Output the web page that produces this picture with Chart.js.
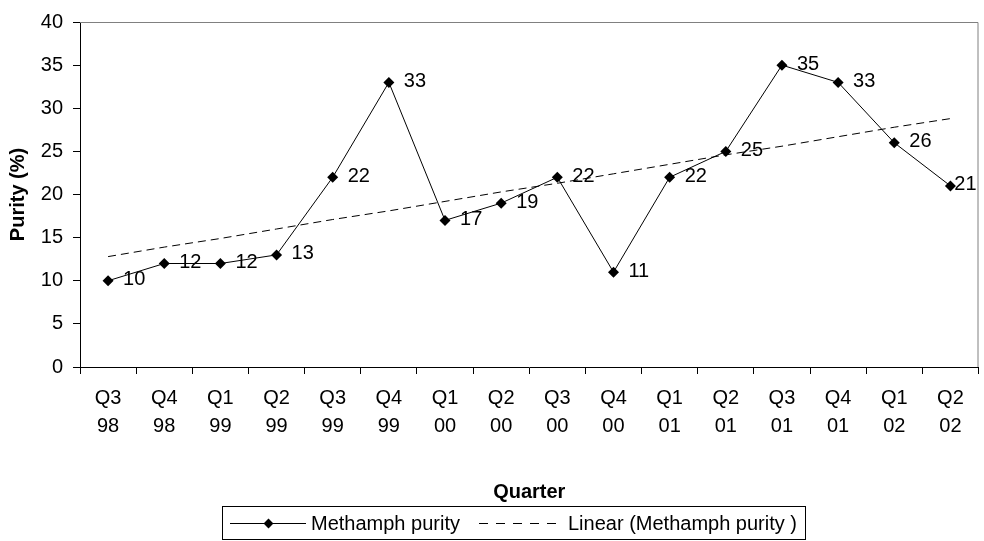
<!DOCTYPE html>
<html>
<head>
<meta charset="utf-8">
<script src="https://cdn.jsdelivr.net/npm/chart.js@4.4.1/dist/chart.umd.min.js"></script>
<style>
  body { margin: 0; background: #fff; font-family: Arial, "Liberation Sans", sans-serif; }
  #wrap { position: relative; width: 984px; height: 541px; }
  #legend {
    position: absolute; left: 222px; top: 506px; width: 584px; height: 34px;
    border: 1px solid #000; box-sizing: border-box; font-size: 20px; color: #000;
  }
  #legend .item { position: absolute; top: 0; height: 32px; line-height: 32px; white-space: nowrap; }
  #legend .solid { position: absolute; top: 16px; height: 1px; background: #000; }
  #legend .dash { position: absolute; top: 16px; height: 1px;
    background: repeating-linear-gradient(90deg, #000 0 9px, transparent 9px 17px); }
  #legend .dia { position: absolute; top: 13px; width: 7px; height: 7px; background: #000; transform: rotate(45deg); }
</style>
</head>
<body>
<div id="wrap">
  <canvas id="purityChart" width="984" height="541"></canvas>
  <div id="legend">
    <div class="solid" style="left:7px; width:76px;"></div>
    <div class="dia" style="left:42px;"></div>
    <div class="item" style="left:88px;">Methamph purity</div>
    <div class="dash" style="left:256px; width:80px;"></div>
    <div class="item" style="left:345px;">Linear (Methamph purity )</div>
  </div>
</div>
<script>
const quarters = [['Q3','98'],['Q4','98'],['Q1','99'],['Q2','99'],['Q3','99'],['Q4','99'],['Q1','00'],['Q2','00'],
                  ['Q3','00'],['Q4','00'],['Q1','01'],['Q2','01'],['Q3','01'],['Q4','01'],['Q1','02'],['Q2','02']];
const purity = [10, 12, 12, 13, 22, 33, 17, 19, 22, 11, 22, 25, 35, 33, 26, 21];
// trend line
const linearTrend = [12.8, 13.9, 14.9, 16.0, 17.1, 18.1, 19.2, 20.3, 21.3, 22.4, 23.5, 24.6, 25.6, 26.7, 27.8, 28.8];
const yTicks = [0, 5, 10, 15, 20, 25, 30, 35, 40];

const FONT = 'Arial, "Liberation Sans", sans-serif';

// value labels next to the points
const pointLabels = {
    id: 'pointLabels',
    afterDatasetsDraw(chart) {
        const ctx = chart.ctx;
        const meta = chart.getDatasetMeta(0);
        ctx.save();
        ctx.font = '20px ' + FONT;
        ctx.fillStyle = '#000';
        ctx.textAlign = 'left';
        ctx.textBaseline = 'middle';
        meta.data.forEach((pt, i) => {
            const txt = String(purity[i]);
            const w = ctx.measureText(txt).width;
            let x = pt.x + 15;
            if (x + w > chart.chartArea.right - 2) x = chart.chartArea.right - 2 - w;
            ctx.fillText(txt, x, pt.y - 1);
        });
        ctx.restore();
    }
};

// grey top and right frame
const frame = {
    id: 'frame',
    beforeDatasetsDraw(chart) {
        const { ctx, chartArea: a } = chart;
        ctx.save();
        ctx.strokeStyle = '#808080';
        ctx.lineWidth = 1;
        ctx.beginPath();
        ctx.moveTo(a.left, a.top + 0.5);
        ctx.lineTo(a.right - 0.5, a.top + 0.5);
        ctx.lineTo(a.right - 0.5, a.bottom);
        ctx.stroke();
        ctx.restore();
    }
};

new Chart(document.getElementById('purityChart'), {
    type: 'line',
    data: {
        labels: quarters,
        datasets: [{
            label: 'Methamph purity',
            data: purity,
            borderColor: '#000',
            backgroundColor: '#000',
            borderWidth: 1,
            pointStyle: 'rectRot',
            pointRadius: 5.5,
            pointBorderWidth: 0,
            tension: 0
        }, {
            label: 'Linear (Methamph purity )',
            data: linearTrend,
            borderColor: '#000',
            borderWidth: 1,
            borderDash: [8, 5],
            pointRadius: 0,
            tension: 0
        }]
    },
    options: {
        responsive: false,
        animation: false,
        layout: { padding: { left: 0, top: 14, right: 1, bottom: 36 } },
        plugins: { legend: { display: false }, tooltip: { enabled: false } },
        scales: {
            x: {
                offset: true,
                grid: { display: true, drawOnChartArea: false, drawTicks: true, tickLength: 7, color: '#000', offset: true },
                border: { color: '#000', width: 1 },
                ticks: { color: '#000', font: { family: FONT, size: 20, lineHeight: 1.4 }, padding: 10, maxRotation: 0, autoSkip: false },
                title: { display: true, text: 'Quarter', color: '#000', font: { family: FONT, size: 20, weight: 'bold' }, padding: { top: 0, bottom: 1 } },
                afterFit: s => { s.height = 138; }
            },
            y: {
                min: 0, max: 40,
                afterBuildTicks: s => { s.ticks = yTicks.map(v => ({ value: v })); },
                grid: { display: true, drawOnChartArea: false, drawTicks: true, tickLength: 7, color: '#000' },
                border: { color: '#000', width: 1 },
                ticks: { color: '#000', font: { family: FONT, size: 20 }, padding: 10 },
                title: { display: true, text: 'Purity (%)', color: '#000', font: { family: FONT, size: 20, weight: 'bold' }, padding: { top: 6, bottom: 0 } },
                afterFit: s => { s.width = 80; }
            }
        }
    },
    plugins: [frame, pointLabels]
});
</script>
</body>
</html>
